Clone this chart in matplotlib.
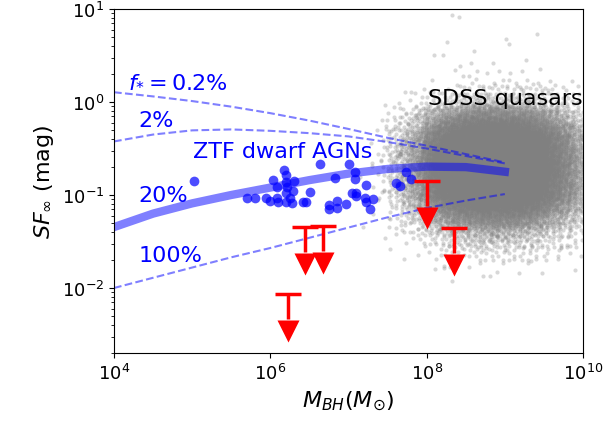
import numpy as np
import matplotlib
matplotlib.use("Agg")
import matplotlib.pyplot as plt
from matplotlib.ticker import NullLocator, FixedLocator

# ---------------- data ----------------
# ZTF dwarf AGNs: log10(M_BH), log10(SF_inf)
ztf_logm = [5.02, 5.70, 5.81, 5.95, 5.99, 6.04, 6.08, 6.10, 6.09, 6.17,
            6.20, 6.20, 6.21, 6.20, 6.20, 6.25, 6.28, 6.30, 6.29, 6.42,
            6.45, 6.51, 6.63, 6.83, 6.75, 6.75, 6.85, 6.85, 6.97, 7.00,
            7.08, 7.08, 7.04, 7.10, 7.09, 7.22, 7.21, 7.23, 7.27, 7.31,
            7.61, 7.66, 7.73, 7.80]
ztf_logsf = [-0.845, -1.028, -1.028, -1.030, -1.060, -0.835, -1.028, -1.071, -0.909, -0.730,
             -0.790, -0.860, -0.915, -0.980, -1.071, -1.036, -1.090, -0.849, -0.960, -1.080,
             -1.075, -0.963, -0.669, -0.815, -1.150, -1.110, -1.140, -1.068, -1.100, -0.663,
             -0.755, -0.825, -0.982, -0.975, -1.015, -0.892, -1.036, -1.080, -1.151, -1.043,
             -0.866, -0.903, -0.755, -0.825]

# upper limits (red arrows)
ul_logm = [8.00, 8.35, 6.44, 6.68, 6.23]
ul_logsf = [-0.845, -1.352, -1.345, -1.334, -2.06]

# model curves for different f_*
curve_logm = [4.0, 4.5, 5.0, 5.5, 6.0, 6.5, 7.0, 7.5, 8.0, 8.5, 9.0]
f02_logsf = [0.105, 0.06, 0.01, -0.05, -0.12, -0.20, -0.29, -0.385, -0.47, -0.56, -0.65]
f2_logsf = [-0.424, -0.35, -0.305, -0.295, -0.31, -0.335, -0.37, -0.43, -0.50, -0.58, -0.66]
f20_logsf = [-1.345, -1.20, -1.09, -1.00, -0.92, -0.84, -0.77, -0.72, -0.695, -0.70, -0.75]
f100_logsf = [-2.00, -1.89, -1.78, -1.67, -1.57, -1.46, -1.35, -1.24, -1.14, -1.06, -0.99]

# SDSS quasars: estimated number of points per cell (rows = log SF centres, cols = log M centres)
sdss_logm_centres = [7.125, 7.375, 7.625, 7.875, 8.125, 8.375, 8.625, 8.875, 9.125, 9.375, 9.625, 9.875]
sdss_logsf_centres = [0.8, 0.6, 0.4, 0.2, 0.0, -0.2, -0.4, -0.6, -0.8, -1.0, -1.2, -1.4, -1.6, -1.8]
sdss_counts = [
    [0, 0, 0, 0, 0, 1, 0, 0, 0, 0, 0, 0],
    [0, 0, 0, 0, 0, 1, 0, 1, 0, 1, 0, 0],
    [0, 0, 0, 0, 1, 1, 2, 2, 1, 1, 1, 0],
    [0, 0, 0, 1, 2, 4, 5, 5, 5, 4, 3, 2],
    [0, 0, 3, 8, 20, 30, 40, 45, 40, 35, 25, 15],
    [0, 2, 15, 45, 120, 200, 260, 280, 260, 200, 120, 60],
    [0, 3, 30, 90, 280, 450, 520, 560, 520, 420, 250, 120],
    [0, 4, 40, 110, 350, 520, 580, 620, 580, 480, 290, 140],
    [0, 4, 40, 110, 350, 520, 580, 620, 580, 480, 290, 140],
    [0, 3, 30, 90, 280, 430, 500, 530, 500, 400, 240, 120],
    [0, 2, 15, 40, 110, 190, 240, 260, 240, 190, 110, 60],
    [0, 1, 4, 12, 30, 50, 65, 70, 65, 50, 30, 18],
    [0, 0, 1, 3, 7, 12, 15, 16, 15, 12, 7, 4],
    [0, 0, 0, 0, 1, 2, 3, 3, 3, 2, 1, 1],
]
sdss_outlier_logm = [8.32, 8.60, 9.05, 8.10]
sdss_outlier_logsf = [0.94, 0.55, 0.62, 0.50]

# ---------------- build SDSS points deterministically (R2 sequence, triangular spread) ----------------
def tri(u):
    return np.where(u < 0.5, np.sqrt(2 * u) - 1, 1 - np.sqrt(2 * (1 - u)))

def cell_points(n, xc, yc, dx, dy, k0):
    a1, a2 = 0.7548776662466927, 0.5698402909980532
    i = np.arange(n) + k0
    u = (0.5 + a1 * (i + 1)) % 1.0
    v = (0.5 + a2 * (i + 1)) % 1.0
    return xc + tri(u) * dx, yc + tri(v) * dy

sx, sy = [], []
for r, yc in enumerate(sdss_logsf_centres):
    for c, xc in enumerate(sdss_logm_centres):
        n = sdss_counts[r][c]
        if n:
            px, py = cell_points(n, xc, yc, 0.25, 0.2, (r * 12 + c) * 7919)
            sx.append(px); sy.append(py)
sx = np.concatenate(sx + [np.array(sdss_outlier_logm)])
sy = np.concatenate(sy + [np.array(sdss_outlier_logsf)])

# ---------------- figure ----------------
fig = plt.figure(figsize=(6.08, 4.31), dpi=100)
ax = fig.add_axes([114 / 608, 1 - 354 / 431, (583 - 114) / 608, (354 - 10) / 431])
ax.set_xscale("log")
ax.set_yscale("log")

ax.scatter(10 ** sx, 10 ** sy, s=9, color="gray", alpha=0.3, linewidths=0, zorder=1)

cm = 10 ** np.array(curve_logm)
for ys in (f02_logsf, f2_logsf, f100_logsf):
    ax.plot(cm, 10 ** np.array(ys), "--", color="blue", alpha=0.5, lw=1.5, zorder=2)
ax.plot(cm, 10 ** np.array(f20_logsf), "-", color="blue", alpha=0.5, lw=6, zorder=2)

ax.plot(10 ** np.array(ztf_logm), 10 ** np.array(ztf_logsf), "o", color="blue",
        alpha=0.7, ms=7, mec="none", zorder=3)

# upper limits
ulx = 10 ** np.array(ul_logm)
uly = 10 ** np.array(ul_logsf)
head_base = 10 ** -0.27
ax.plot(ulx, uly, "_", color="red", ms=19, mew=2.5, zorder=4)
ax.vlines(ulx, uly * head_base, uly, color="red", lw=2.5, zorder=4)
ax.plot(ulx, uly * 10 ** -0.40, "v", color="red", ms=16, mec="none", zorder=4)

ax.set_xlim(1e4, 1e10)
ax.set_ylim(2e-3, 10)
ax.xaxis.set_major_locator(FixedLocator([1e4, 1e6, 1e8, 1e10]))
ax.xaxis.set_minor_locator(NullLocator())
ax.tick_params(labelsize=13)
ax.set_xlabel(r"$M_{BH} (M_{\odot})$", fontsize=16)
ax.set_ylabel(r"$SF_{\infty}$ (mag)", fontsize=16)

ax.text(10 ** 4.18, 10 ** 0.24, r"$f_{*} = 0.2\%$", color="blue", fontsize=16, va="center")
ax.text(10 ** 4.31, 10 ** -0.19, "2%", color="blue", fontsize=16, va="center")
ax.text(10 ** 5.01, 10 ** -0.53, "ZTF dwarf AGNs", color="blue", fontsize=16, va="center")
ax.text(10 ** 4.31, 10 ** -1.0, "20%", color="blue", fontsize=16, va="center")
ax.text(10 ** 4.32, 10 ** -1.647, "100%", color="blue", fontsize=16, va="center")
ax.text(10 ** 9.99, 10 ** 0.04, "SDSS quasars", color="black", fontsize=16, va="center", ha="right")

fig.savefig("out.png", dpi=100)
